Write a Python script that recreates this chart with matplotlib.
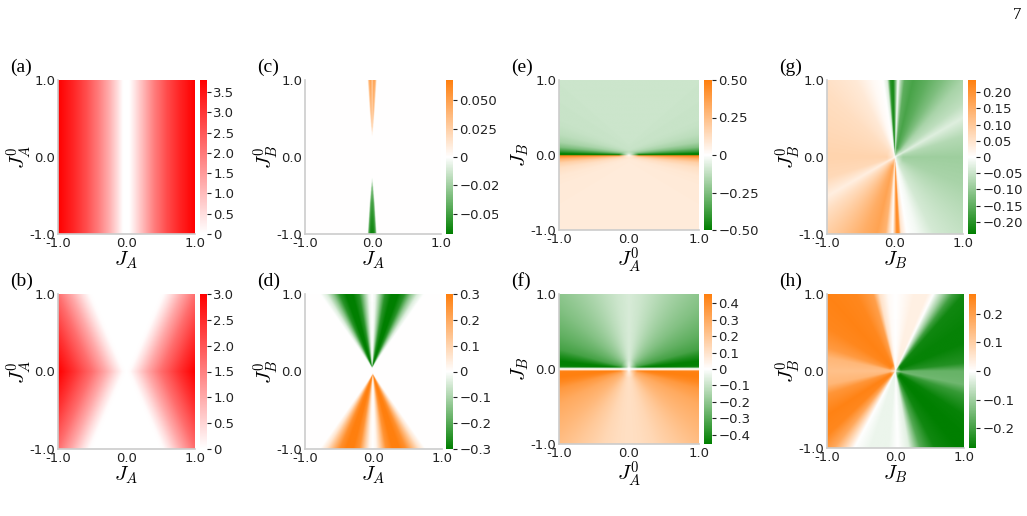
import numpy as np
import matplotlib
matplotlib.use('Agg')
import matplotlib.pyplot as plt
from matplotlib.colors import LinearSegmentedColormap, Normalize
from matplotlib.patches import Rectangle

plt.rcParams['mathtext.fontset'] = 'cm'
plt.rcParams['font.family'] = ['DejaVu Sans']

# ---------------- data ----------------
axis_ticks = [-1.0, 0.0, 1.0]
axis_ticklabels = ['-1.0', '0.0', '1.0']

# (a) value across J_A (no dependence on J_A^0)
a_JA = [-1.0, -0.8, -0.6, -0.4, -0.25, -0.12, -0.05, 0.04, 0.12, 0.25, 0.4, 0.6, 0.8, 1.0]
a_val = [3.8, 3.3, 2.7, 1.9, 1.2, 0.45, 0.0, 0.0, 0.4, 1.1, 1.9, 2.7, 3.3, 3.8]
a_vmax = 3.8
a_cticks = [0, 0.5, 1.0, 1.5, 2.0, 2.5, 3.0, 3.5]
a_clabels = ['0', '0.5', '1.0', '1.5', '2.0', '2.5', '3.0', '3.5']

# (b) value across the bow-tie coordinate |J_A| - 0.5|J_A^0|
b_slope = 0.5
b_u = [0.0, 0.05, 0.15, 0.3, 0.5, 0.75, 1.0]
b_val = [0.0, 0.05, 0.4, 1.0, 1.7, 2.4, 3.0]
b_vmax = 3.0
b_cticks = [0, 0.5, 1.0, 1.5, 2.0, 2.5, 3.0]
b_clabels = ['0', '0.5', '1.0', '1.5', '2.0', '2.5', '3.0']

# (c) thin wedges along J_A = 0
c_center = -0.012
c_absy = [0.25, 0.4, 0.6, 0.8, 1.0]
c_halfwidth = [0.0, 0.015, 0.035, 0.05, 0.065]
c_up_val = [0.0, 0.025, 0.035, 0.042, 0.048]
c_dn_val = [0.0, -0.035, -0.05, -0.058, -0.064]
c_prof_t = [0.0, 0.25, 0.55, 0.85, 1.0]
c_prof_up = [0.45, 1.0, 1.0, 0.6, 0.0]
c_prof_dn = [1.0, 1.0, 0.9, 0.6, 0.0]
c_vmax = 0.068
c_cticks = [-0.05, -0.025, 0, 0.025, 0.05]
c_clabels = ['\u22120.050', '\u22120.025', '0', '0.025', '0.050']

# (d) cones: value vs slope |J_A| / |J_B^0|
d_apex_up, d_apex_dn = 0.05, -0.03
d_t = [0.0, 0.05, 0.12, 0.2, 0.3, 0.4, 0.5, 0.6, 0.7, 0.8]
d_up = [0.0, -0.02, -0.12, -0.25, -0.3, -0.3, -0.25, -0.13, -0.04, 0.0]
d_dn = [0.0, 0.02, 0.12, 0.25, 0.3, 0.3, 0.26, 0.16, 0.06, 0.0]
d_vmax = 0.3
d_cticks = [-0.3, -0.2, -0.1, 0, 0.1, 0.2, 0.3]
d_clabels = ['\u22120.3', '\u22120.2', '\u22120.1', '0', '0.1', '0.2', '0.3']

# (e) bands along J_B = 0
e_q = [0.0, 0.05, 0.15, 0.3, 0.5, 0.8, 1.2, 3.0]
e_up = [-0.5, -0.5, -0.38, -0.25, -0.17, -0.13, -0.11, -0.1]
e_dn = [0.5, 0.45, 0.3, 0.18, 0.12, 0.09, 0.08, 0.075]
e_vmax = 0.5
e_cticks = [-0.5, -0.25, 0, 0.25, 0.5]
e_clabels = ['\u22120.50', '\u22120.25', '0', '0.25', '0.50']

# (f) value vs angle from the J_A^0 axis (degrees)
f_alpha = [0, 1, 3, 6, 10, 15, 25, 40, 55, 70, 80, 90]
f_up = [-0.3, -0.4, -0.45, -0.45, -0.4, -0.33, -0.28, -0.22, -0.17, -0.12, -0.09, -0.07]
f_dn = [0.3, 0.42, 0.45, 0.45, 0.42, 0.36, 0.3, 0.25, 0.19, 0.14, 0.12, 0.11]
f_vmax = 0.455
f_cticks = [-0.4, -0.3, -0.2, -0.1, 0, 0.1, 0.2, 0.3, 0.4]
f_clabels = ['\u22120.4', '\u22120.3', '\u22120.2', '\u22120.1', '0', '0.1', '0.2', '0.3', '0.4']

# (g) value vs polar angle (degrees)
g_phi = [0, 15, 27, 35, 45, 55, 65, 75, 82, 85, 87.5, 89.5, 91.5, 94, 96.5, 100, 108, 120, 140, 160,
         180, 195, 207, 215, 225, 235, 245, 255, 262, 265, 268, 270, 271.5, 273.5, 275, 280, 288, 300, 320, 340]
g_val = [-0.09, -0.07, -0.03, -0.06, -0.08, -0.12, -0.15, -0.17, -0.15, -0.08, 0.0, -0.12, -0.22, -0.2, -0.03, 0.0, 0.01, 0.04, 0.06, 0.07,
         0.08, 0.07, 0.03, 0.06, 0.09, 0.12, 0.15, 0.17, 0.14, 0.06, 0.0, 0.12, 0.22, 0.2, 0.05, 0.0, -0.01, -0.04, -0.06, -0.08]
g_vmax = 0.238
g_cticks = [-0.2, -0.15, -0.1, -0.05, 0, 0.05, 0.1, 0.15, 0.2]
g_clabels = ['\u22120.20', '\u22120.15', '\u22120.10', '\u22120.05', '0', '0.05', '0.10', '0.15', '0.20']

# (h) value vs polar angle (degrees)
h_phi = [0, 6, 20, 31, 45, 50, 55, 61, 65, 75, 84, 90, 96, 103, 108, 120, 135, 150, 163, 170, 180, 190,
         197, 210, 220, 228, 234, 239, 250, 264, 272, 281, 290, 300, 315, 330, 343, 350]
h_val = [-0.16, -0.23, -0.26, -0.26, -0.25, -0.2, -0.1, 0.0, 0.03, 0.03, 0.01, 0.0, 0.01, 0.06, 0.2, 0.25, 0.26, 0.25, 0.21, 0.15, 0.13, 0.15,
         0.22, 0.26, 0.25, 0.18, 0.08, 0.0, -0.02, -0.02, 0.0, -0.03, -0.18, -0.25, -0.27, -0.26, -0.21, -0.15]
h_vmax = 0.268
h_cticks = [-0.2, -0.1, 0, 0.1, 0.2]
h_clabels = ['\u22120.2', '\u22120.1', '0', '0.1', '0.2']

# ---------------- build the fields ----------------
n = 401
grid = np.linspace(-1, 1, n)
X, Y = np.meshgrid(grid, grid)
R = np.hypot(X, Y)
PHI = np.degrees(np.arctan2(Y, X)) % 360
ALPHA = np.degrees(np.arctan2(np.abs(Y), np.abs(X)))

Za = np.interp(X, a_JA, a_val)

Zb = np.interp(np.abs(X) - b_slope * np.abs(Y), b_u, b_val)

hw_up = np.interp(Y, c_absy, c_halfwidth)
hw_dn = np.interp(-Y, c_absy, c_halfwidth)
tc_up = np.abs(X - c_center) / np.maximum(hw_up, 1e-9)
tc_dn = np.abs(X - c_center) / np.maximum(hw_dn, 1e-9)
Zc = np.zeros_like(X)
m = (Y > c_absy[0]) & (tc_up < 1)
Zc[m] = (np.interp(Y, c_absy, c_up_val) * np.interp(tc_up, c_prof_t, c_prof_up))[m]
m = (Y < -c_absy[0]) & (tc_dn < 1)
Zc[m] = (np.interp(-Y, c_absy, c_dn_val) * np.interp(tc_dn, c_prof_t, c_prof_dn))[m]

Zd = np.zeros_like(X)
m = Y > d_apex_up
Zd[m] = np.interp(np.abs(X[m] + 0.02) / (Y[m] - d_apex_up), d_t, d_up, right=0.0)
m = Y < d_apex_dn
Zd[m] = np.interp(np.abs(X[m] + 0.01) / (d_apex_dn - Y[m]), d_t, d_dn, right=0.0)

Q = np.abs(Y) / (0.3 * np.abs(X) + 0.05)
Ze = np.where(Y >= 0, np.interp(Q, e_q, e_up), np.interp(Q, e_q, e_dn))
Ze *= np.interp(np.hypot(X / 0.12, Y / 0.035), [0, 0.6, 1.2], [0, 0.5, 1])

Zf = np.where(Y >= 0, np.interp(ALPHA, f_alpha, f_up), np.interp(ALPHA, f_alpha, f_dn))
Zf *= np.interp(np.abs(Y), [0, 0.012, 0.025], [0, 0.2, 1])
Zf *= np.interp(R, [0, 0.04, 0.12], [0, 0.6, 1])

Zg = np.interp(PHI, g_phi, g_val, period=360)
Zg *= np.interp(R, [0, 0.04, 0.12], [0, 0.6, 1])

Zh = np.interp(PHI, h_phi, h_val, period=360)
Zh *= np.interp(R, [0, 0.03, 0.08], [0, 0.5, 1])

# ---------------- figure ----------------
W, H = 1027, 516
fig = plt.figure(figsize=(W / 100, H / 100), dpi=100)

reds = LinearSegmentedColormap.from_list('wr', ['#ffffff', '#ff0000'])
gwo = LinearSegmentedColormap.from_list('gwo', ['#007f00', '#ffffff', '#ff7f0e'])

tick_fs = 9.5
lab_fs = 15

def px_axes(l, r, t, b):
    return fig.add_axes([l / W, 1 - b / H, (r - l) / W, (b - t) / H])

panels = [
    # Z, cmap, vmin, vmax, cticks, clabels, xlabel, ylabel, tag, (l, r, t, b), (cl, cr)
    (Za, reds, 0, a_vmax, a_cticks, a_clabels, r'$J_A$', r'$J^0_A$', '(a)', (58, 195, 80, 234), (200, 207)),
    (Zc, gwo, -c_vmax, c_vmax, c_cticks, c_clabels, r'$J_A$', r'$J^0_B$', '(c)', (305, 441, 80, 234), (446, 453)),
    (Ze, gwo, -e_vmax, e_vmax, e_cticks, e_clabels, r'$J^0_A$', r'$J_B$', '(e)', (559, 699, 80, 230), (704, 712)),
    (Zg, gwo, -g_vmax, g_vmax, g_cticks, g_clabels, r'$J_B$', r'$J^0_B$', '(g)', (827, 963, 80, 234), (968, 976)),
    (Zb, reds, 0, b_vmax, b_cticks, b_clabels, r'$J_A$', r'$J^0_A$', '(b)', (58, 195, 294, 449), (200, 207)),
    (Zd, gwo, -d_vmax, d_vmax, d_cticks, d_clabels, r'$J_A$', r'$J^0_B$', '(d)', (305, 442, 294, 449), (446, 453)),
    (Zf, gwo, -f_vmax, f_vmax, f_cticks, f_clabels, r'$J^0_A$', r'$J_B$', '(f)', (559, 699, 294, 444), (704, 712)),
    (Zh, gwo, -h_vmax, h_vmax, h_cticks, h_clabels, r'$J_B$', r'$J^0_B$', '(h)', (827, 964, 294, 448), (969, 976)),
]

for Z, cmap, vmin, vmax, cticks, clabels, xl, yl, tag, (l, r, t, b), (cl, cr) in panels:
    ax = px_axes(l, r, t, b)
    im = ax.imshow(Z, extent=[-1, 1, -1, 1], origin='lower', cmap=cmap,
                   norm=Normalize(vmin, vmax), aspect='auto', interpolation='bilinear')
    ax.set_xlim(-1, 1)
    ax.set_ylim(-1, 1)
    ax.set_xticks(axis_ticks)
    ax.set_xticklabels(axis_ticklabels)
    ax.set_yticks(axis_ticks)
    ax.set_yticklabels(axis_ticklabels)
    ax.tick_params(length=0, pad=2, labelsize=tick_fs, colors='#222222')
    for s in ['top', 'right']:
        ax.spines[s].set_visible(False)
    for s in ['left', 'bottom']:
        ax.spines[s].set_color('#cccccc')
        ax.spines[s].set_linewidth(1.2)

    cax = px_axes(cl, cr, t, b)
    cb = fig.colorbar(im, cax=cax, ticks=cticks)
    cb.ax.set_yticklabels(clabels)
    cb.outline.set_visible(False)
    cb.ax.tick_params(length=3, width=0.8, pad=1.5, labelsize=tick_fs, colors='#222222')

    xc = (l + r) / 2
    dy = 30 if '^0' in xl else 26
    fig.text(xc / W, 1 - (b + dy) / H, xl, ha='center', va='center', fontsize=lab_fs)
    fig.text((l - 39) / W, 1 - ((t + b) / 2) / H, yl, ha='center', va='center',
             rotation=90, fontsize=lab_fs)
    fig.text((l - 48) / W, 1 - (t - 13) / H, tag, ha='left', va='center',
             fontsize=14, family='Liberation Serif')

# clipped colorbar labels of panel (c), as in the source
fig.patches.append(Rectangle((498 / W, 1 - 225 / H), 10 / W, 70 / H, transform=fig.transFigure,
                             facecolor='white', edgecolor='none', zorder=20))

fig.text(1017 / W, 1 - 15 / H, '7', ha='center', va='center', fontsize=12, family='Liberation Serif')

fig.savefig('out.png', dpi=100)
